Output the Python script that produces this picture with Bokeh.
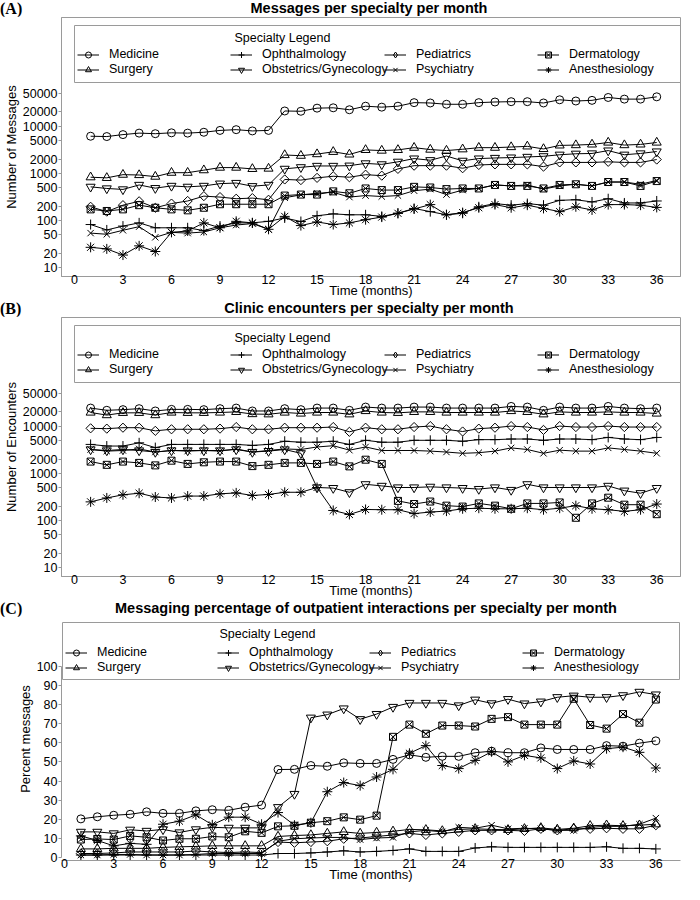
import math
from bokeh.plotting import figure
from bokeh.models import (Range1d, FixedTicker, NumeralTickFormatter, Label, Legend,
                          LegendItem, BoxAnnotation, Div)
from bokeh.layouts import column
from bokeh.embed import file_html
from bokeh.resources import INLINE

months = list(range(1, 37))
x_ticks = list(range(0, 37, 3))
log_ticks = [10, 20, 50, 100, 200, 500, 1000, 2000, 5000, 10000, 20000, 50000]
pct_ticks = list(range(0, 101, 10))

specialties = ["Medicine", "Surgery", "Ophthalmology", "Obstetrics/Gynecology",
               "Pediatrics", "Psychiatry", "Dermatology", "Anesthesiology"]

# (A) Messages per specialty per month
msg_medicine = [6100, 6000, 6600, 7100, 6900, 7200, 7100, 7400, 8100, 8400, 7900, 8100,
                20900, 20600, 24000, 24400, 22200, 26400, 25200, 26400, 31400, 30900, 29000, 29000,
                31400, 32400, 32900, 32900, 30900, 36100, 34000, 35100, 40400, 37300, 37300, 41700]
msg_surgery = [825, 800, 935, 920, 850, 1030, 1030, 1165, 1320, 1320, 1240, 1260,
               2440, 2360, 2550, 2850, 2510, 3130, 3030, 3130, 3490, 3180, 3030, 3230,
               3490, 3490, 3600, 3720, 3280, 3900, 3960, 4090, 4490, 3960, 4090, 4490]
msg_ophthalmology = [82, 63, 76, 89, 70, 70, 70, 61, 76, 89, 89, 96,
                     113, 95, 126, 138, 132, 132, 122, 142, 180, 154, 132, 142,
                     195, 228, 211, 228, 211, 267, 275, 247, 289, 235, 235, 259]
msg_obgyn = [516, 477, 455, 566, 484, 540, 516, 540, 603, 622, 532, 566,
             1240, 1340, 1430, 1430, 1450, 1620, 1545, 1750, 2050, 1890, 2320, 1835,
             2050, 2110, 2150, 2220, 2290, 2470, 2590, 2630, 3030, 2470, 2630, 2890]
msg_pediatrics = [195, 154, 211, 255, 186, 228, 259, 328, 313, 289, 298, 275,
                  740, 717, 800, 865, 825, 934, 891, 1240, 1450, 1450, 1450, 1280,
                  1500, 1545, 1545, 1545, 1385, 1700, 1700, 1700, 1750, 1700, 1700, 1955]
msg_psychiatry = [54, 51, 62, 74, 44, 56, 54, 57, 70, 80, 86, 65,
                  303, 349, 377, 395, 313, 337, 322, 337, 427, 462, 354, 441,
                  477, 566, 540, 566, 462, 540, 585, 540, 653, 653, 585, 706]
msg_dermatology = [172, 159, 172, 211, 186, 172, 164, 186, 221, 221, 221, 221,
                   337, 354, 354, 414, 377, 477, 441, 441, 516, 500, 462, 477,
                   477, 566, 540, 540, 477, 566, 585, 540, 653, 653, 540, 684]
msg_anesthesiology = [27, 25, 18.5, 29, 22, 56, 60, 89, 70, 96, 89, 65,
                      122, 78, 93, 82, 89, 104, 118, 142, 175, 217, 132, 147,
                      186, 217, 186, 211, 180, 154, 195, 167, 217, 217, 211, 189]

# (B) Clinic encounters per specialty per month
enc_medicine = [24100, 21600, 22300, 23400, 20900, 22600, 22600, 22300, 23400, 24100, 20900, 20900,
                23400, 22300, 24100, 24100, 21600, 25300, 24100, 24100, 25300, 25300, 24100, 24100,
                24100, 24100, 26100, 25300, 21600, 25300, 24100, 24100, 26100, 24100, 23400, 24100]
enc_surgery = [19400, 17100, 19100, 19100, 17100, 19400, 19100, 19100, 19400, 20000, 18000, 17800,
               19400, 18500, 19400, 19400, 17800, 20900, 19400, 19100, 20000, 20000, 19400, 19400,
               19400, 19400, 20900, 20000, 17800, 20000, 19400, 19400, 20000, 19400, 19400, 18500]
enc_ophthalmology = [4090, 3780, 3780, 4420, 3500, 4090, 4090, 4090, 4090, 4090, 3900, 4090,
                     4770, 4550, 4550, 4770, 4090, 5000, 4550, 4550, 5000, 5000, 5000, 4770,
                     5160, 5160, 5320, 5320, 5000, 5320, 5320, 5160, 5750, 5320, 5160, 5750]
enc_obgyn = [3190, 3040, 3190, 3040, 2820, 3040, 3040, 3040, 3040, 3190, 2820, 2950,
             3190, 2650, 500, 485, 395, 584, 540, 500, 500, 516, 500, 485,
             463, 500, 442, 584, 500, 500, 500, 500, 540, 428, 378, 485]
enc_pediatrics = [8970, 8830, 9250, 9250, 7930, 8560, 8560, 8560, 8830, 9550, 8560, 8560,
                  9250, 9250, 9250, 9550, 7560, 9250, 8560, 8560, 9550, 10000, 8560, 7680,
                  8830, 9250, 10000, 9550, 8300, 10000, 9550, 9550, 10000, 9550, 9550, 9550]
enc_psychiatry = [3190, 2950, 3040, 3280, 2820, 3040, 2950, 3040, 2950, 3280, 2820, 3040,
                  3280, 3190, 3610, 3840, 3090, 3610, 3040, 3040, 3040, 2950, 2820, 2650,
                  2730, 2950, 3450, 3190, 2650, 3090, 2950, 2950, 3450, 3190, 2950, 2650]
enc_dermatology = [1770, 1510, 1770, 1660, 1470, 1850, 1580, 1710, 1770, 1770, 1420, 1510,
                   1660, 1660, 1580, 1770, 1400, 1940, 1580, 260, 223, 252, 206, 197,
                   230, 206, 177, 230, 230, 241, 114, 230, 304, 216, 216, 136]
enc_anesthesiology = [248, 300, 350, 378, 314, 300, 329, 329, 367, 384, 339, 356,
                      396, 396, 500, 163, 134, 171, 169, 169, 140, 151, 158, 177,
                      182, 177, 177, 182, 169, 182, 206, 177, 169, 156, 169, 223]

# (C) Messaging percentage of outpatient interactions
pct_medicine = [20.2, 21.3, 22.1, 22.6, 23.9, 23.1, 23.1, 24.4, 25.0, 24.7, 26.3, 27.4,
                46.0, 46.1, 48.1, 47.7, 49.5, 49.2, 49.2, 51.3, 53.7, 52.4, 52.9, 52.9,
                54.8, 55.6, 54.8, 54.8, 57.3, 56.5, 56.5, 56.5, 58.5, 58.2, 59.8, 61.0]
pct_surgery = [4.5, 4.5, 4.8, 4.8, 4.8, 5.3, 5.6, 5.8, 6.1, 6.1, 6.1, 6.1,
               11.0, 11.5, 11.8, 12.6, 13.4, 12.6, 13.1, 13.7, 14.7, 14.5, 13.9, 14.7,
               15.0, 14.7, 14.5, 15.0, 15.5, 14.7, 15.3, 16.6, 16.9, 16.6, 16.9, 17.4]
pct_ophthalmology = [1.3, 1.3, 1.3, 1.3, 1.3, 1.3, 1.3, 1.3, 1.3, 1.3, 1.3, 1.3,
                     2.1, 2.1, 2.4, 2.9, 3.5, 2.9, 3.2, 3.7, 4.5, 3.2, 3.2, 3.2,
                     5.0, 5.6, 5.3, 5.3, 5.3, 5.3, 5.3, 5.3, 5.6, 4.8, 4.8, 4.5]
pct_obgyn = [13.4, 13.4, 12.6, 14.5, 13.9, 14.7, 13.1, 14.7, 15.8, 15.5, 15.5, 15.5,
             26.3, 33.2, 73.1, 74.7, 77.9, 72.3, 75.0, 78.7, 80.8, 80.8, 80.8, 79.5,
             82.5, 80.6, 82.8, 80.5, 81.5, 83.8, 84.6, 83.8, 83.8, 84.8, 86.6, 85.2]
pct_pediatrics = [2.1, 2.1, 2.4, 2.9, 2.9, 2.9, 2.9, 3.4, 2.9, 2.6, 2.9, 2.6,
                  8.1, 7.7, 8.1, 8.5, 9.8, 10.2, 11.0, 11.8, 12.6, 11.8, 12.6, 13.4,
                  14.2, 14.2, 14.2, 13.9, 15.0, 14.2, 15.0, 15.0, 15.3, 15.0, 15.0, 16.9]
pct_psychiatry = [1.3, 1.3, 1.6, 1.6, 1.3, 1.3, 1.3, 1.6, 2.1, 2.1, 2.1, 2.1,
                  8.5, 9.8, 10.2, 10.5, 10.5, 9.4, 10.2, 10.5, 13.4, 14.2, 13.4, 15.8,
                  15.3, 16.9, 15.0, 15.3, 15.0, 14.2, 14.2, 15.8, 16.3, 16.3, 17.4, 20.6]
pct_dermatology = [9.4, 9.7, 9.4, 11.3, 10.6, 8.9, 9.8, 9.8, 11.0, 10.6, 13.7, 12.9,
                   16.3, 16.6, 18.2, 19.0, 21.0, 19.8, 21.9, 63.1, 69.5, 64.7, 69.0, 69.0,
                   68.5, 72.5, 73.4, 69.5, 69.5, 69.5, 83.0, 69.3, 67.4, 75.0, 70.5, 82.6]
pct_anesthesiology = [11.3, 8.9, 6.1, 7.4, 6.9, 17.4, 19.0, 22.3, 17.1, 21.1, 21.1, 17.4,
                      23.5, 16.9, 18.2, 34.4, 39.2, 37.6, 42.1, 46.1, 54.5, 58.5, 48.1, 46.5,
                      50.8, 55.3, 50.0, 53.4, 52.1, 46.5, 50.5, 48.9, 56.9, 57.7, 55.0, 46.8]

msg_data = dict(zip(specialties, [msg_medicine, msg_surgery, msg_ophthalmology, msg_obgyn,
                                  msg_pediatrics, msg_psychiatry, msg_dermatology, msg_anesthesiology]))
enc_data = dict(zip(specialties, [enc_medicine, enc_surgery, enc_ophthalmology, enc_obgyn,
                                  enc_pediatrics, enc_psychiatry, enc_dermatology, enc_anesthesiology]))
pct_data = dict(zip(specialties, [pct_medicine, pct_surgery, pct_ophthalmology, pct_obgyn,
                                  pct_pediatrics, pct_psychiatry, pct_dermatology, pct_anesthesiology]))

FONT = "Liberation Sans"
SERIF = "Liberation Serif"
GRAY = "#9a9a9a"
STYLE = {
    "Medicine": dict(marker="circle", size=8, angle=0.0),
    "Surgery": dict(marker="triangle", size=9, angle=0.0),
    "Ophthalmology": dict(marker="cross", size=10, angle=0.0),
    "Obstetrics/Gynecology": dict(marker="inverted_triangle", size=9, angle=0.0),
    "Pediatrics": dict(marker="square", size=6.5, angle=math.pi / 4),
    "Psychiatry": dict(marker="x", size=9, angle=0.0),
    "Dermatology": dict(marker="square_x", size=7, angle=0.0),
    "Anesthesiology": dict(marker="asterisk", size=10, angle=0.0),
}
FIG_W = 684
RIGHT = 4
LEFT = 56
STRIP_H = 16


def title_strip(tag, title, cx):
    html = (
        f'<div style="position:relative;width:{FIG_W}px;height:{STRIP_H}px;">'
        f'<span style="position:absolute;left:0px;top:0px;white-space:nowrap;'
        f'font-family:\'{SERIF}\';font-weight:bold;font-size:16px;line-height:17px;'
        f'color:#000;">{tag}</span>'
        f'<span style="position:absolute;left:{cx}px;top:0px;transform:translateX(-50%);'
        f'white-space:nowrap;font-family:\'{FONT}\';font-weight:bold;font-size:14.5px;'
        f'line-height:16px;color:#000;">{title}</span>'
        '</div>'
    )
    return Div(text=html, width=FIG_W, height=STRIP_H, margin=(0, 0, 0, 0))


def build_panel(ylabel, data, log, height, xr, yr, yticks, outline, leg):
    top, bottom = 1, 23
    fh = height - top - bottom
    p = figure(width=FIG_W, height=height, x_range=Range1d(*xr), y_range=Range1d(*yr),
               y_axis_type="log" if log else "linear", output_backend="svg",
               toolbar_location=None, min_border_left=LEFT, min_border_right=RIGHT,
               min_border_top=top, min_border_bottom=bottom)
    p.grid.visible = False
    p.outline_line_color = GRAY if outline else None

    p.xaxis.ticker = FixedTicker(ticks=x_ticks)
    p.yaxis.ticker = FixedTicker(ticks=yticks)
    if log:
        p.yaxis.formatter = NumeralTickFormatter(format="0")
    else:
        p.yaxis.bounds = (0, 100)
    for ax in (p.xaxis[0], p.yaxis[0]):
        ax.axis_line_color = GRAY
        ax.major_tick_line_color = GRAY
        ax.minor_tick_line_color = None
        ax.major_tick_in = 0
        ax.major_label_text_font = FONT
        ax.major_label_text_font_size = "12.5px"
        ax.major_label_text_color = "black"
        ax.axis_label_text_font = FONT
        ax.axis_label_text_font_size = "13px"
        ax.axis_label_text_font_style = "normal"
        ax.axis_label_text_color = "black"
    p.xaxis.major_tick_out = 0
    p.xaxis.major_label_standoff = -2
    p.xaxis.axis_label = "Time (months)"
    p.xaxis.axis_label_standoff = -4
    p.yaxis.major_tick_out = 3
    p.yaxis.major_label_standoff = 1
    p.yaxis.axis_label = ylabel
    p.yaxis.axis_label_standoff = 1

    rends = {}
    for name in specialties:
        vals = data[name]
        st = STYLE[name]
        lr = p.line(months, vals, line_color="black", line_width=1)
        sr = p.scatter(months, vals, marker=st["marker"], size=st["size"], angle=st["angle"],
                       fill_color=None, line_color="black", line_width=1)
        rends[name] = [lr, sr]
    # the legend draws markers unrotated, so give Pediatrics a diamond swatch
    # (size 0: it adds nothing to the plot itself)
    dk = p.scatter(months, data["Pediatrics"], marker="diamond", size=0, fill_color=None,
                   line_color="black", line_width=1)
    rends["Pediatrics"] = [rends["Pediatrics"][0], dk]

    p.add_layout(BoxAnnotation(left=leg["box_left"], right=leg["box_right"],
                               top=fh - leg["box_top"], bottom=fh - leg["box_bottom"],
                               left_units="screen", right_units="screen",
                               top_units="screen", bottom_units="screen",
                               fill_alpha=0, line_color=GRAY, line_width=1, line_alpha=1))
    p.add_layout(Label(x=leg["title_x"], y=fh - leg["title_y"], x_units="screen",
                       y_units="screen", text="Specialty Legend", text_align="left",
                       text_baseline="middle", text_font=FONT, text_font_size="12.5px",
                       text_color="black"))
    for c in range(4):
        items = [LegendItem(label=specialties[2 * c + r], renderers=rends[specialties[2 * c + r]])
                 for r in range(2)]
        lg = Legend(items=items, location=(leg["cols"][c], fh - leg["rows_bottom"]),
                    orientation="vertical", glyph_width=22, glyph_height=15,
                    label_height=15, label_width=20, label_standoff=10, spacing=0,
                    padding=0, margin=0, border_line_color=None,
                    background_fill_alpha=0, label_text_font=FONT,
                    label_text_font_size="12.5px", label_text_color="black")
        p.add_layout(lg)
    return p


# legend geometry, px from the frame's left edge / top edge
leg_ab = dict(box_left=13, box_right=623.5, box_top=9, box_bottom=66, title_x=173,
              title_y=21, cols=[16, 169, 323, 476], rows_bottom=60.5)
leg_c = dict(box_left=1, box_right=618, box_top=6, box_bottom=63, title_x=158,
             title_y=17, cols=[4, 156, 308, 461], rows_bottom=58.5)

sA = title_strip("(A)", "Messages per specialty per month", 369)
pA = build_panel("Number of Messages", msg_data, True, 284, (-0.80, 37.47),
                 (6.5, 2.0e6), log_ticks, True, leg_ab)
sB = title_strip("(B)", "Clinic encounters per specialty per month", 369)
pB = build_panel("Number of Encounters", enc_data, True, 284, (-0.80, 37.47),
                 (6.5, 2.0e6), log_ticks, True, leg_ab)
sC = title_strip("(C)", "Messaging percentage of outpatient interactions per specialty per month", 366)
pC = build_panel("Percent messages", pct_data, False, 268, (-0.18, 37.5),
                 (-1.56, 125.5), pct_ticks, False, leg_c)

layout = column(sA, pA, sB, pB, sC, pC, spacing=0)
open("out.html", "w").write(file_html(layout, INLINE))
